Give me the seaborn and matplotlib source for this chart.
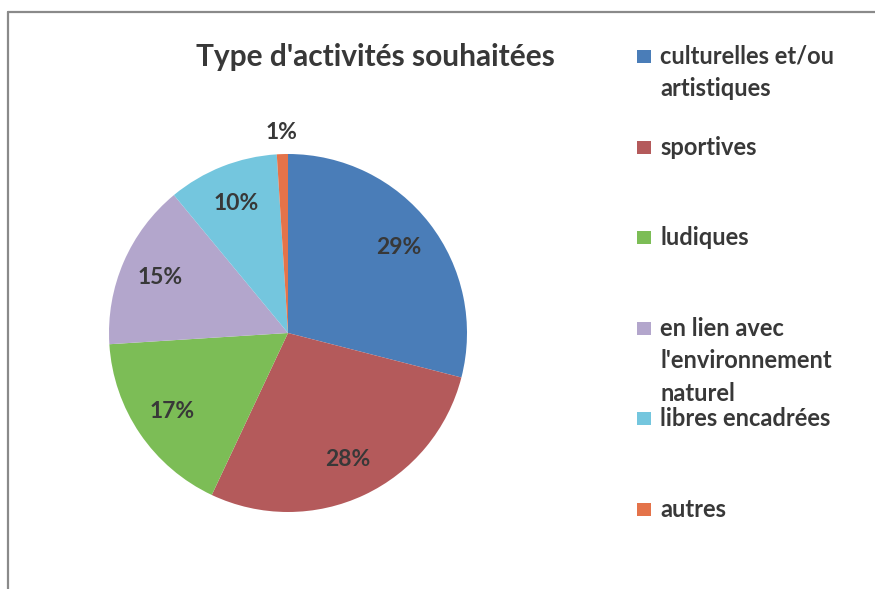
import matplotlib
matplotlib.use('Agg')
import matplotlib.pyplot as plt
import seaborn as sns
import numpy as np
from matplotlib.patches import Rectangle
from matplotlib.lines import Line2D

# data
categories = ['culturelles et/ou\nartistiques', 'sportives', 'ludiques',
              'en lien avec\nl\'environnement\nnaturel', 'libres encadrées', 'autres']
values = [29, 28, 17, 15, 10, 1]
colors = ['#4a7db8', '#b45a5b', '#7cbd56', '#b3a6cc', '#74c6de', '#e4734a']

sns.set_theme(style='white')
plt.rcParams['font.family'] = ['Lato', 'DejaVu Sans']
text_col = '#383838'

fig = plt.figure(figsize=(8.75, 5.89), dpi=100)
W, H = 875, 589

# pie axes: centre ~ (288, 333) px, radius ~179 px
cx, cy, r = 288, 333, 179
ax = fig.add_axes([(cx - r) / W, 1 - (cy + r) / H, 2 * r / W, 2 * r / H])
wedges, texts, autotexts = ax.pie(values, colors=colors, startangle=90, counterclock=False,
                                  autopct='%1.0f%%', pctdistance=0.78,
                                  wedgeprops=dict(linewidth=0),
                                  textprops=dict(fontsize=16.5, fontweight='bold', color=text_col))
ax.set_xlim(-1, 1)
ax.set_ylim(-1, 1)
ax.set_aspect('equal')
ax.axis('off')

# the tiny slice gets its label outside the pie
w = wedges[-1]
mid = np.deg2rad((w.theta1 + w.theta2) / 2)
autotexts[-1].set_position((1.12 * np.cos(mid), 1.12 * np.sin(mid)))

# title
fig.text(375 / W, 1 - 57 / H, "Type d'activités souhaitées", ha='center', va='center',
         fontsize=21.5, fontweight='bold', color=text_col)

# legend, evenly spaced like the Excel one
x_sw, x_txt = 637, 660
y_first, step = 58, 90.6
for i, (lab, col) in enumerate(zip(categories, colors)):
    y = y_first + i * step
    fig.patches.append(Rectangle((x_sw / W, 1 - (y + 5) / H), 14 / W, 13 / H,
                                 transform=fig.transFigure, facecolor=col, edgecolor='none'))
    fig.text(x_txt / W, 1 - (y - 13) / H, lab, ha='left', va='top', fontsize=17,
             fontweight='bold', color=text_col, linespacing=1.5)

# chart frame (top and left edges visible)
fig.add_artist(Line2D([8 / W, 1], [1 - 12 / H, 1 - 12 / H], transform=fig.transFigure,
                      color='#8a8a8a', linewidth=1.6))
fig.add_artist(Line2D([8 / W, 8 / W], [0, 1 - 12 / H], transform=fig.transFigure,
                      color='#8a8a8a', linewidth=1.6))

fig.savefig('out.png', dpi=100, facecolor='white')
